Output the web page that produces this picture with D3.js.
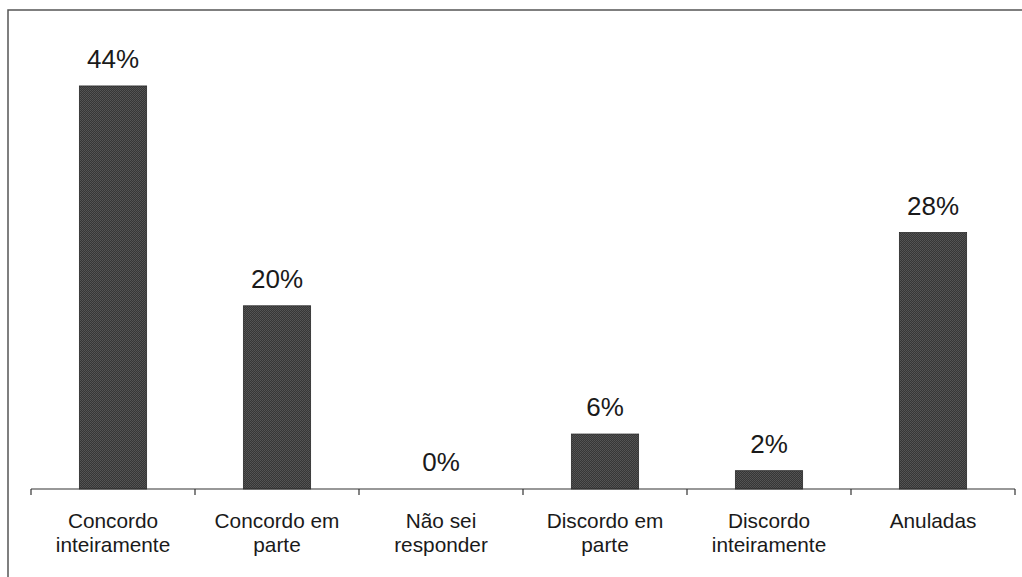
<!DOCTYPE html>
<html>
<head>
<meta charset="utf-8">
<script src="https://cdn.jsdelivr.net/npm/d3@7/dist/d3.min.js"></script>
<style>
  html, body { margin: 0; padding: 0; background: #fff; }
  svg { display: block; font-family: "Liberation Sans", Arial, sans-serif; }
</style>
</head>
<body>
<svg id="chart" width="1022" height="577"></svg>
<script>
// Survey answers and their shares
const categories = [
  ["Concordo", "inteiramente"],
  ["Concordo em", "parte"],
  ["Não sei", "responder"],
  ["Discordo em", "parte"],
  ["Discordo", "inteiramente"],
  ["Anuladas"]
];
const values = [0.44, 0.20, 0.00, 0.06, 0.02, 0.28];
const valueLabels = ["44%", "20%", "0%", "6%", "2%", "28%"];

const svg = d3.select("#chart");
const W = 1022, H = 577;
const plot = { left: 31, right: 1015, top: 31, bottom: 489 };

// dithered dark-gray fill for the bars
const defs = svg.append("defs");
const pat = defs.append("pattern")
  .attr("id", "dither")
  .attr("width", 2).attr("height", 2)
  .attr("patternUnits", "userSpaceOnUse");
pat.append("rect").attr("width", 2).attr("height", 2).attr("fill", "#363636");
pat.append("rect").attr("width", 1).attr("height", 1).attr("fill", "#555");
pat.append("rect").attr("x", 1).attr("y", 1).attr("width", 1).attr("height", 1).attr("fill", "#505050");

// outer frame
svg.append("rect")
  .attr("x", 8).attr("y", 10)
  .attr("width", W).attr("height", H)
  .attr("fill", "none")
  .attr("stroke", "#555")
  .attr("stroke-width", 1.5);

const keys = categories.map((c, i) => i);
const x = d3.scaleBand().domain(keys).range([plot.left, plot.right]).padding(0);
const y = d3.scaleLinear().domain([0, 0.5]).range([plot.bottom, plot.top]);
const barW = x.bandwidth() * 0.41;

// bars
svg.append("g").selectAll("rect")
  .data(values)
  .join("rect")
  .attr("x", (d, i) => x(i) + (x.bandwidth() - barW) / 2)
  .attr("y", d => y(d))
  .attr("width", barW)
  .attr("height", d => y(0) - y(d))
  .attr("fill", "url(#dither)")
  .attr("stroke", "#2a2a2a")
  .attr("stroke-width", 0.8);

// value labels
svg.append("g").selectAll("text")
  .data(values)
  .join("text")
  .attr("x", (d, i) => x(i) + x.bandwidth() / 2)
  .attr("y", d => y(d) - 18)
  .attr("text-anchor", "middle")
  .attr("font-size", 26)
  .attr("fill", "#1a1a1a")
  .text((d, i) => valueLabels[i]);

// category axis: baseline with ticks at band boundaries
const axis = svg.append("g");
axis.append("line")
  .attr("x1", plot.left).attr("x2", plot.right)
  .attr("y1", y(0)).attr("y2", y(0))
  .attr("stroke", "#333").attr("stroke-width", 1.2);
const edges = keys.map(k => x(k)).concat([x(keys[keys.length - 1]) + x.bandwidth()]);
axis.selectAll("line.tick")
  .data(edges)
  .join("line")
  .attr("class", "tick")
  .attr("x1", d => d).attr("x2", d => d)
  .attr("y1", y(0)).attr("y2", y(0) + 6)
  .attr("stroke", "#333").attr("stroke-width", 1.2);

const lab = axis.selectAll("text.cat")
  .data(categories)
  .join("text")
  .attr("class", "cat")
  .attr("x", (d, i) => x(i) + x.bandwidth() / 2)
  .attr("y", y(0) + 39)
  .attr("text-anchor", "middle")
  .attr("font-size", 20.8)
  .attr("fill", "#1a1a1a");
lab.selectAll("tspan")
  .data(d => d)
  .join("tspan")
  .attr("x", function () { return d3.select(this.parentNode).attr("x"); })
  .attr("dy", (d, j) => j === 0 ? 0 : 24)
  .text(d => d);
</script>
</body>
</html>
